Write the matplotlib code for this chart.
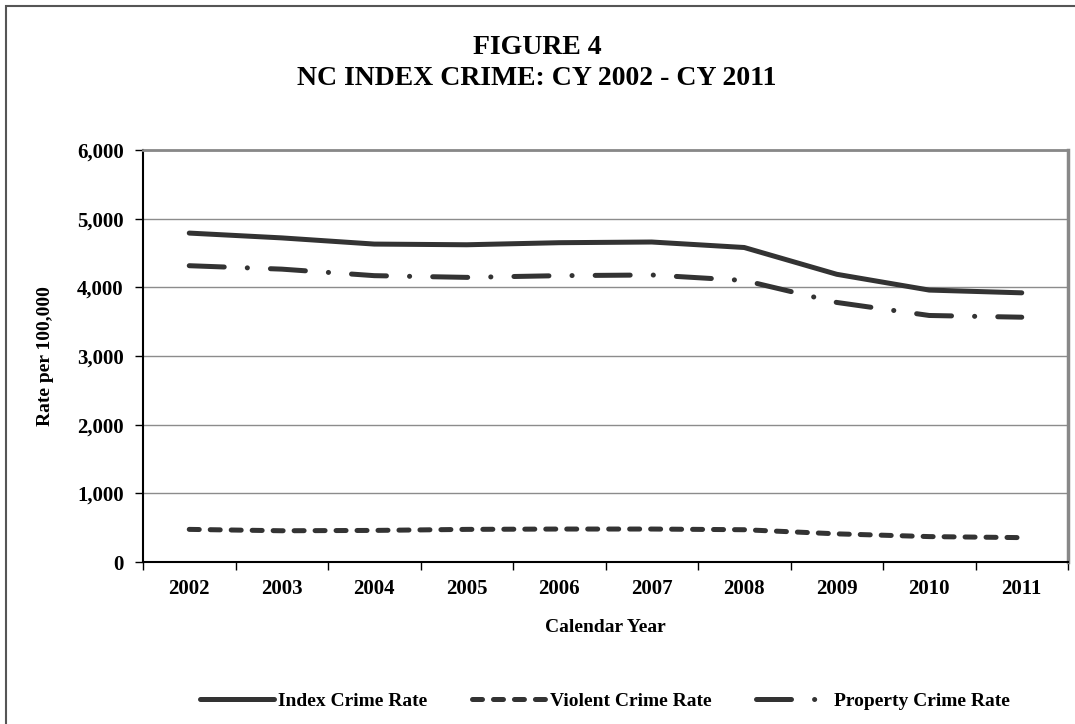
import matplotlib
matplotlib.use('Agg')
import matplotlib.pyplot as plt
from matplotlib.lines import Line2D
from matplotlib.patches import Rectangle
import numpy as np

plt.rcParams['font.family'] = 'Liberation Serif'
plt.rcParams['font.weight'] = 'bold'
plt.rcParams['lines.scale_dashes'] = False

# NC crime rates per 100,000 population
years = ['2002', '2003', '2004', '2005', '2006', '2007', '2008', '2009', '2010', '2011']
index_rate = [4790, 4720, 4630, 4620, 4650, 4660, 4580, 4190, 3960, 3920]
violent_rate = [475, 455, 460, 475, 480, 480, 470, 410, 370, 355]
property_rate = [4315, 4265, 4170, 4145, 4170, 4180, 4100, 3780, 3590, 3565]

line_col = '#333333'
lw = 3.6
violent_dash = (0, (7.2, 7.9))
property_dash = (0, (25.2, 16.6, 0.1, 16.6))

fig = plt.figure(figsize=(10.75, 7.24), dpi=100)
ax = fig.add_axes([143/1075, 1 - 562/724, 925/1075, 412/724])

x = np.arange(len(years))
ax.plot(x, index_rate, color=line_col, lw=lw, solid_capstyle='round', label='Index Crime Rate')
ax.plot(x, violent_rate, color=line_col, lw=lw, linestyle=violent_dash,
        dash_capstyle='round', label='Violent Crime Rate')
ax.plot(x, property_rate, color=line_col, lw=lw, linestyle=property_dash,
        dash_capstyle='round', label='Property Crime Rate')

ax.set_xlim(-0.5, len(years) - 0.5)
ax.set_ylim(0, 6000)
ax.set_yticks(np.arange(0, 6001, 1000))
ax.set_yticklabels(['{:,}'.format(v) for v in range(0, 6001, 1000)], fontsize=15, fontweight='bold')
ax.set_xticks(x)
ax.set_xticklabels(years, fontsize=15, fontweight='bold')
ax.tick_params(axis='x', which='major', length=0, pad=12)
ax.set_xticks(np.arange(-0.5, len(years), 1), minor=True)
ax.tick_params(axis='x', which='minor', length=6, width=1, direction='out', color='black')
ax.tick_params(axis='y', length=6, width=1, direction='out', pad=8)

ax.grid(axis='y', color='#8c8c8c', lw=1)
ax.set_axisbelow(True)
ax.spines['top'].set_color('#888888')
ax.spines['top'].set_linewidth(2)
ax.spines['right'].set_color('#888888')
ax.spines['right'].set_linewidth(2.5)
for side in ['left', 'bottom']:
    ax.spines[side].set_color('black')
    ax.spines[side].set_linewidth(1.5)

fig.text(45/1075, 1 - 356/724, 'Rate per 100,000', rotation=90, ha='center', va='center',
         fontsize=14, fontweight='bold')
fig.text(605/1075, 1 - 628/724, 'Calendar Year', ha='center', va='center',
         fontsize=14, fontweight='bold')

fig.text(537/1075, 1 - 63/724, 'FIGURE 4\nNC INDEX CRIME: CY 2002 - CY 2011', ha='center', va='center',
         fontsize=20, fontweight='bold', linespacing=1.27)

handles = [
    Line2D([], [], color=line_col, lw=lw, solid_capstyle='round'),
    Line2D([], [], color=line_col, lw=lw, linestyle=violent_dash, dash_capstyle='round'),
    Line2D([], [], color=line_col, lw=lw, linestyle=property_dash, dash_capstyle='round'),
]
fig.legend(handles, ['Index Crime Rate', 'Violent Crime Rate', 'Property Crime Rate'],
           loc='center', bbox_to_anchor=(605/1075, 1 - 701/724), ncol=3, frameon=False,
           prop={'size': 14, 'weight': 'bold'}, handlelength=3.8, handletextpad=0.2,
           columnspacing=2.3)

# outer frame of the chart area
fig.patches.append(Rectangle((6/1075, -0.05), 1.2, 1 - 6/724 + 0.05, transform=fig.transFigure,
                             fill=False, edgecolor='#555555', lw=1.5))

fig.savefig('out.png', dpi=100)
